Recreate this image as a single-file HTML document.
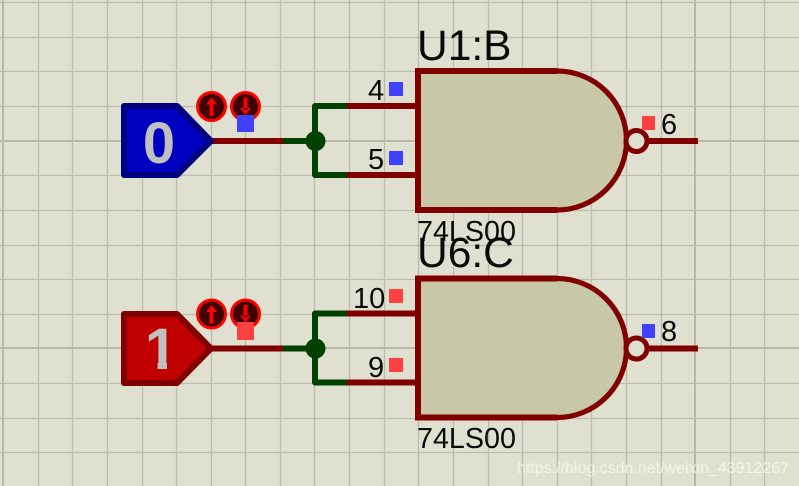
<!DOCTYPE html>
<html><head><meta charset="utf-8"><style>
html,body{margin:0;padding:0;background:#e0e0d0;width:799px;height:486px;overflow:hidden}
svg{display:block}
text{font-family:"Liberation Sans",sans-serif;fill:#0a0a0a}
</style></head><body>
<svg xmlns="http://www.w3.org/2000/svg" width="799" height="486" viewBox="0 0 799 486">
<defs>
<g id="gate">
<path d="M418 71H557A69.500 69.500 0 0 1 557 210H418Z" fill="#c8c8a8"/>
<path d="M557 71A69.500 69.500 0 0 1 557 210" fill="none" stroke="#800000" stroke-width="5.200"/>
<path d="M557 71H418V210H557" fill="none" stroke="#800000" stroke-width="6"/>
<circle cx="636.500" cy="141" r="10.500" fill="#e0e0d0" stroke="#800000" stroke-width="5"/>
<path d="M649 141H698" stroke="#800000" stroke-width="6"/>
<path d="M348 106H315V175H348" stroke="#004000" stroke-width="6" fill="none" stroke-linejoin="round"/>
<path d="M283 141H315" stroke="#004000" stroke-width="6"/>
<path d="M347 106H416M347 175H416" stroke="#800000" stroke-width="6"/>
<circle cx="315.500" cy="141" r="10" fill="#004000"/>
<path d="M209 141H283" stroke="#800000" stroke-width="6"/>
<circle cx="211.500" cy="106.500" r="14" fill="#400000" stroke="#ff0000" stroke-width="3"/>
<path d="M209.500 103H213.500V116H209.500ZM206 104.500L211.500 97.500L217 104.500Z" fill="#ff0000"/>
<circle cx="245.500" cy="106.500" r="14" fill="#400000" stroke="#ff0000" stroke-width="3"/>
<path d="M243.500 97.500H247.500V110H243.500ZM240 108L245.500 115L251 108Z" fill="#ff0000"/>
</g>
</defs>
<rect width="799" height="486" fill="#e0e0d0"/>
<g stroke="#bcbcae" stroke-width="1.300">
<path d="M38.500 0V486M72.500 0V486M107.500 0V486M142.500 0V486M176.500 0V486M211.500 0V486M245.500 0V486M280.500 0V486M314.500 0V486M349.500 0V486M384.500 0V486M418.500 0V486M453.500 0V486M488.500 0V486M522.500 0V486M557.500 0V486M591.500 0V486M626.500 0V486M661.500 0V486M730.500 0V486M764.500 0V486"/>
<path d="M0 2.500H799M0 37.500H799M0 71.500H799M0 106.500H799M0 175.500H799M0 210.500H799M0 245.500H799M0 279.500H799M0 314.500H799M0 383.500H799M0 418.500H799M0 452.500H799"/>
</g>
<g stroke="#b8b8a8" fill="none" stroke-width="2" shape-rendering="crispEdges">
<path d="M3 0V486M695 0V486M0 141H799M0 348H799"/>
</g>

<use href="#gate"/>
<use href="#gate" y="207.500"/>

<path d="M124 106H177L211 141L177 175H124Z" fill="#0000c0" stroke="#00007f" stroke-width="6" stroke-linejoin="round"/>
<path d="M124 314H177L211 348.500L177 383H124Z" fill="#c00000" stroke="#800000" stroke-width="6" stroke-linejoin="round"/>
<text x="159" y="163" text-anchor="middle" font-size="58" font-weight="bold" style="fill:#c0c0c0">0</text>
<text x="161" y="369" text-anchor="middle" font-size="58" font-weight="bold" style="fill:#c0c0c0">1</text>
<g fill="#c00000" shape-rendering="crispEdges">
<rect x="140" y="362" width="17.500" height="9"/>
<rect x="167" y="362" width="12" height="9"/>
</g>

<g shape-rendering="crispEdges">
<rect x="237" y="115" width="17" height="17" fill="#4040ff"/>
<rect x="237" y="322" width="17" height="18" fill="#ff4040"/>
<rect x="389" y="82" width="14" height="14" fill="#4040ff"/>
<rect x="389" y="151" width="14" height="14" fill="#4040ff"/>
<rect x="389" y="289" width="14" height="14" fill="#ff4040"/>
<rect x="389" y="358" width="14" height="14" fill="#ff4040"/>
<rect x="642" y="116" width="13" height="14" fill="#ff4040"/>
<rect x="642" y="324" width="13" height="14" fill="#4040ff"/>
</g>

<text x="417" y="60" font-size="42.500">U1:B</text>
<text x="417" y="241" font-size="28.700">74LS00</text>
<text x="417" y="267" font-size="42.500">U6:C</text>
<text x="417" y="448" font-size="28.700">74LS00</text>

<g font-size="29">
<text x="368" y="100">4</text>
<text x="368" y="169">5</text>
<text x="353" y="308">10</text>
<text x="368" y="377">9</text>
<text x="661" y="134">6</text>
<text x="661" y="341">8</text>
</g>

<text x="517" y="473" font-size="16" textLength="272" lengthAdjust="spacingAndGlyphs" style="fill:#f6f6ee;fill-opacity:.85">https://blog.csdn.net/weixin_43912267</text>
</svg>
</body></html>
